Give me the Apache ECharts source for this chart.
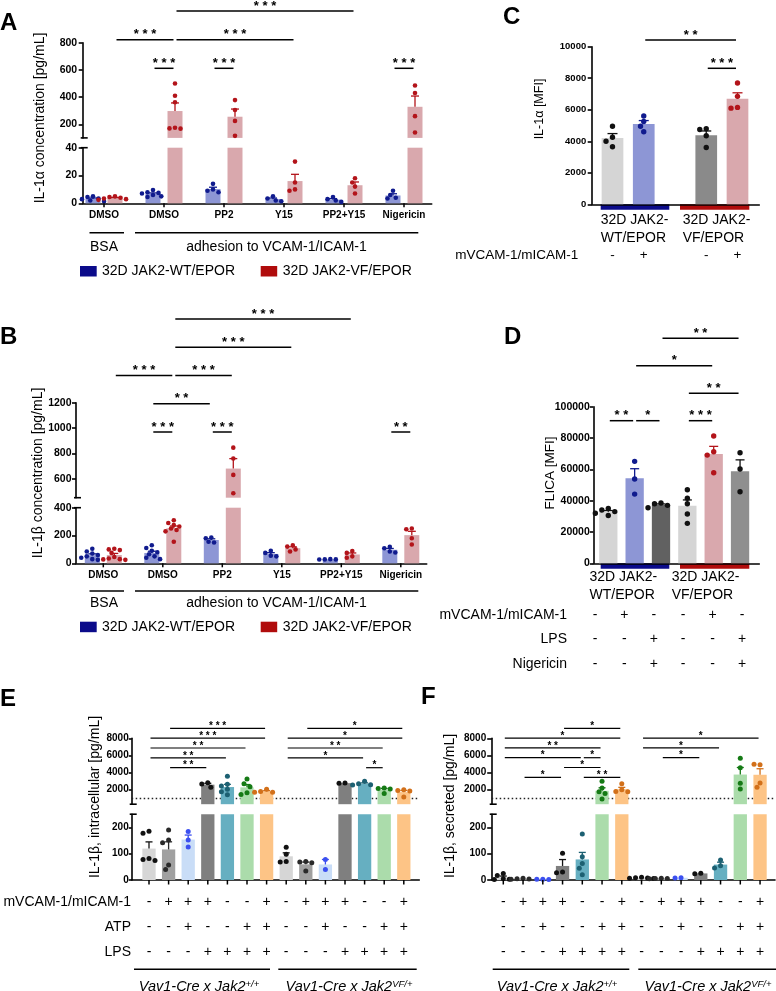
<!DOCTYPE html>
<html>
<head>
<meta charset="utf-8">
<script src="https://cdn.jsdelivr.net/npm/echarts@6/dist/echarts.min.js"></script>
<style>
  html, body { margin: 0; padding: 0; background: #fff; }
  #chart { width: 776px; height: 991px; }
</style>
</head>
<body>
<div id="chart"></div>
<script>
const FONT = "'Liberation Sans', Arial, Helvetica, sans-serif";

// ---------- data ----------
const abGroups = ['DMSO', 'DMSO', 'PP2', 'Y15', 'PP2+Y15', 'Nigericin'];

// A: IL-1a [pg/mL], one array of replicate dots per bar
const aWT = [
  [5, 4.5, 3.5, 3, 2, 1.5],
  [9.5, 8, 7.5, 7, 6, 5, 4.5],
  [14, 10, 9, 8],
  [5, 3.5, 2, 1.5],
  [4.5, 3, 2, 1],
  [9, 6, 4, 3.5]
];
const aVF = [
  [5, 4.5, 4, 3.5, 3, 2.5],
  [500, 410, 362, 175, 170, 168],
  [378, 305, 225, 115],
  [30, 15, 10, 9],
  [18, 15, 12, 7],
  [485, 430, 260, 140]
];

// B: IL-1b [pg/mL]
const bWT = [
  [105, 85, 70, 60, 50, 40, 30, 25],
  [130, 110, 90, 80, 65, 50, 40, 30],
  [185, 180, 155, 150],
  [90, 75, 55, 50],
  [30, 28, 28, 27],
  [118, 108, 85, 78]
];
const bVF = [
  [105, 100, 95, 75, 45, 35, 30, 28, 25],
  [310, 290, 275, 265, 250, 240, 230, 155],
  [845, 760, 630, 485],
  [130, 120, 100, 85],
  [88, 75, 50, 40],
  [250, 245, 180, 135]
];

// C: IL-1a [MFI]
const cDots = [
  [4950, 4250, 4000, 3650],
  [5600, 5250, 4950, 4600],
  [4800, 4750, 4350, 3600],
  [7700, 6850, 6150, 6100]
];

// D: FLICA [MFI]
const dDots = [
  [35000, 34000, 33000, 32000, 30500],
  [65100, 53800, 44200],
  [38500, 38000, 37000, 35500],
  [47000, 41500, 38000, 31500, 25500],
  [81300, 71200, 69100, 57800],
  [70600, 60200, 45700]
];

// E: IL-1b intracellular [pg/mL]
const eDots = [
  [185, 178, 82, 78, 74],
  [190, 152, 142, 57, 40],
  [184, 152, 125],
  [2780, 2620, 2240],
  [3550, 2600, 2400, 2000, 1700, 1350],
  [3200, 2650, 2300, 1600, 1400],
  [2000, 1750, 1650, 1650],
  [124, 98, 70, 68],
  [70, 68, 66, 34],
  [78, 40],
  [2750, 2700],
  [2950, 2650, 2550, 2500],
  [2150, 2100, 2050, 1500],
  [1950, 1850, 1800, 1100]
];

// F: IL-1b secreted [pg/mL]
const fDots = [
  [25, 17, 5, 3, 2],
  [7, 5, 4, 3],
  [3, 3, 2],
  [102, 30, 28],
  [175, 88, 63, 45, 20],
  [2950, 2150, 1700, 1500, 850],
  [2650, 1950, 1750, 1700],
  [10, 9, 8, 7, 6],
  [7, 6, 6, 5],
  [9, 8],
  [26, 24],
  [76, 54, 46],
  [5650, 4550, 2700, 2050],
  [4900, 4950, 2750, 2250]
];

const loqEF = 1000;

// tick labels
const aTopTicks = [200, 400, 600, 800];
const aBotTicks = [0, 20, 40];
const bTopTicks = [600, 800, 1000, 1200];
const bBotTicks = [0, 200, 400];
const cTicks = [0, 2000, 4000, 6000, 8000, 10000];
const dTicks = [0, 20000, 40000, 60000, 80000, 100000];
const efTopTicks = [2000, 4000, 6000, 8000];
const efBotTicks = [0, 100, 200];

// significance: [bar from, bar to, level, stars]
const sigA = [[2, 3, 0, '***'], [4, 5, 0, '***'], [10, 11, 0, '***'], [1, 3, 1, '***'], [3, 7, 1, '***'], [3, 9, 2, '***']];
const sigB = [[2, 3, 0, '***'], [4, 5, 0, '***'], [10, 11, 0, '**'], [2, 4, 1, '**'], [1, 3, 2, '***'], [3, 5, 2, '***'], [3, 7, 3, '***'], [3, 9, 4, '***']];
const sigC = [[2, 3, 0, '***'], [1, 3, 1, '**']];
const sigD = [[0, 1, 0, '**'], [1, 2, 0, '*'], [3, 4, 0, '***'], [3, 5, 1, '**'], [1, 4, 2, '*'], [2, 5, 3, '**']];
const sigE = [[1, 3, 0, '**'], [0, 4, 1, '**'], [0, 5, 2, '**'], [0, 6, 3, '***'], [1, 6, 4, '***'],
              [11, 12, 0, '*'], [7, 11, 1, '*'], [7, 12, 2, '**'], [7, 13, 3, '*'], [8, 13, 4, '*']];
const sigF = [[1, 3, 0, '*'], [4, 6, 0, '**'], [3, 5, 1, '*'], [0, 4, 2, '*'], [4, 5, 2, '*'], [0, 5, 3, '**'], [0, 6, 4, '*'], [3, 6, 5, '*'],
              [8, 10, 2, '*'], [7, 11, 3, '*'], [7, 13, 4, '*']];

// treatment tables
const cRows = ['mVCAM-1/mICAM-1'];
const cSigns = [['-', '+', '-', '+']];
const dRows = ['mVCAM-1/mICAM-1', 'LPS', 'Nigericin'];
const dSigns = [
  ['-', '+', '-', '-', '+', '-'],
  ['-', '-', '+', '-', '-', '+'],
  ['-', '-', '+', '-', '-', '+']
];
const efRows = ['mVCAM-1/mICAM-1', 'ATP', 'LPS'];
const efSigns = [
  ['-', '+', '+', '+', '-', '-', '+', '-', '+', '+', '+', '-', '-', '+'],
  ['-', '-', '+', '-', '-', '+', '+', '-', '-', '+', '-', '-', '+', '+'],
  ['-', '-', '-', '+', '+', '+', '+', '-', '-', '-', '+', '+', '+', '+']
];

// ---------- colours ----------
const WT_BAR = '#8d96d5', VF_BAR = '#d9a8ad', WT_DOT = '#101b8e', VF_DOT = '#b3141a';
const NAVY = '#0b0b8a', DARKRED = '#b00c0c';
const efFill = ['#d6d6d6', '#a0a0a0', '#c9ddf7', '#7f7f7f', '#66afc1', '#abdcab', '#fdc486'];
const efDot = ['#111', '#2a2a2a', '#3b4ff0', '#111', '#1c6072', '#157a15', '#d2701a'];

// ---------- helpers ----------
function stats(v) {
  const n = v.length;
  const m = v.reduce((a, b) => a + b, 0) / n;
  const sd = n > 1 ? Math.sqrt(v.reduce((a, b) => a + (b - m) * (b - m), 0) / (n - 1)) : 0;
  return { m, sem: sd / Math.sqrt(n) };
}

const grids = [], xAxes = [], yAxes = [], series = [], graphic = [];

function addGrid(P, top, bottom, xLine, yCfg) {
  const gi = grids.length;
  grids.push({ left: P.left, top: top, width: P.right - P.left, height: bottom - top });
  xAxes.push({
    type: 'value', gridIndex: gi, min: P.xmin, max: P.xmax, show: xLine,
    axisLine: { show: xLine, onZero: false, lineStyle: { color: '#000', width: 1.6 } },
    axisTick: { show: false }, axisLabel: { show: false }, splitLine: { show: false }
  });
  yAxes.push(Object.assign({ gridIndex: gi }, yCfg));
  return gi;
}

function marks(params, api, P, seg, isBottom) {
  const b = P.bars[params.dataIndex];
  const cs = params.coordSys;
  const top = cs.y, bot = cs.y + cs.height;
  const st = stats(b.vals);
  const kids = [];
  const ln = (x1, y1, x2, y2, c, w) =>
    kids.push({ type: 'line', shape: { x1, y1, x2, y2 }, style: { stroke: c, lineWidth: w || 1.3 } });
  const clampY = y => Math.min(Math.max(y, top), bot);

  // error bar (mean + SEM)
  const pm = api.coord([b.x, st.m]), pe = api.coord([b.x, st.m + st.sem]);
  const y0 = clampY(pm[1]), y1 = clampY(pe[1]);
  if (y0 - y1 > 0.3) {
    ln(pm[0], y0, pm[0], y1, b.dot);
    if (pe[1] >= top) ln(pm[0] - P.cap, y1, pm[0] + P.cap, y1, b.dot);
  }

  // replicate dots inside this axis segment, spread sideways when they overlap
  const placed = [];
  b.vals.filter(v => v >= seg.min && v <= seg.max)
    .map(v => api.coord([b.x, v]))
    .forEach(p => {
      let k = 0, dx = 0;
      while (k < 14 && placed.some(q => Math.hypot(q[0] - p[0] - dx, q[1] - p[1]) < P.r * 1.9)) {
        k++;
        dx = (k % 2 ? -1 : 1) * Math.ceil(k / 2) * P.r * 1.2;
      }
      placed.push([p[0] + dx, p[1]]);
    });
  placed.forEach(p => kids.push({ type: 'circle', shape: { cx: p[0], cy: p[1], r: P.r }, style: { fill: b.dot } }));

  // x ticks under the axis
  if (isBottom && b.tx != null) {
    const t = api.coord([b.tx, seg.min]);
    ln(t[0], bot, t[0], bot + P.xTick, '#000', 1.5);
  }
  // caps at the axis break
  if (params.dataIndex === 0 && seg.caps) {
    seg.caps.forEach(c => {
      const y = c === 'top' ? top : bot;
      ln(cs.x - 2, y, cs.x + 5, y, '#000', 1.6);
    });
  }
  return { type: 'group', children: kids };
}

function sigMark(params, api, P) {
  const s = P.sig[params.dataIndex];
  const a = api.coord([P.bars[s[0]].x, s[2]]);
  const b = api.coord([P.bars[s[1]].x, s[2]]);
  return {
    type: 'group', children: [
      { type: 'line', shape: { x1: a[0] + 1.5, y1: a[1], x2: b[0] - 1.5, y2: a[1] },
        style: { stroke: '#000', lineWidth: P.sigW } },
      { type: 'text', x: (a[0] + b[0]) / 2, y: a[1] - P.starDy,
        style: { text: s[3].split('').join(' '), fill: '#000', fontFamily: FONT, fontWeight: 'bold',
                 fontSize: P.starFs, align: 'center', verticalAlign: 'middle' } }
    ]
  };
}

function panel(P) {
  P.xmin = (P.left - P.c0) / P.step;
  P.xmax = (P.right - P.c0) / P.step;
  P.segs.forEach((seg, k) => {
    const isBottom = k === P.segs.length - 1;
    const gi = addGrid(P, seg.top, seg.bottom, isBottom, {
      type: 'value', min: seg.min, max: seg.max,
      axisLine: { show: true, onZero: false, lineStyle: { color: '#000', width: 1.6 } },
      axisTick: { show: true, length: P.tickLen, lineStyle: { color: '#000', width: 1.6 }, customValues: seg.labels },
      axisLabel: { customValues: seg.labels, formatter: v => String(v), color: '#000', fontFamily: FONT,
                   fontWeight: 'bold', fontSize: P.yfs, margin: P.ymargin },
      splitLine: { show: false }
    });
    const bar = {
      type: 'bar', xAxisIndex: gi, yAxisIndex: gi, barWidth: P.barW, clip: true, silent: true, z: 2,
      data: P.bars.map(b => ({ value: [b.x, stats(b.vals).m], itemStyle: { color: b.fill } }))
    };
    if (seg.loq) {
      bar.markLine = {
        silent: true, symbol: 'none', z: 1, label: { show: false },
        lineStyle: { color: '#222', width: 1.3, type: [1.5, 2.5] },
        data: [{ yAxis: seg.loq }]
      };
    }
    series.push(bar);
    series.push({
      type: 'custom', xAxisIndex: gi, yAxisIndex: gi, silent: true, z: 3,
      data: P.bars.map(b => [b.x, stats(b.vals).m]),
      renderItem: (params, api) => marks(params, api, P, seg, isBottom)
    });
  });
  const sg = addGrid(P, P.sigTop, P.sigBottom, false, { type: 'value', min: 0, max: P.sigN - 1, show: false });
  series.push({
    type: 'custom', xAxisIndex: sg, yAxisIndex: sg, silent: true, z: 4,
    data: P.sig.map(s => [P.bars[s[0]].x, P.bars[s[1]].x, s[2]]),
    encode: { x: [0, 1], y: 2 },
    renderItem: (params, api) => sigMark(params, api, P)
  });
}

function txt(x, y, text, o) {
  o = o || {};
  graphic.push({
    type: 'text', x: x, y: y, rotation: o.rot || 0, silent: true,
    style: {
      text: text, fill: o.color || '#000', fontFamily: FONT, fontSize: o.size || 14,
      fontWeight: o.weight || 'normal', fontStyle: o.italic ? 'italic' : 'normal',
      align: o.align || 'center', verticalAlign: 'middle'
    }
  });
}
function hline(x1, x2, y, w) {
  graphic.push({ type: 'line', silent: true, shape: { x1, y1: y, x2, y2: y }, style: { stroke: '#000', lineWidth: w || 1.5 } });
}
function box(x, y, w, h, c) {
  graphic.push({ type: 'rect', silent: true, shape: { x, y, width: w, height: h }, style: { fill: c } });
}
function geno(x, y, sup) {
  graphic.push({
    type: 'text', x: x, y: y, silent: true,
    style: {
      text: '{a|Vav1-Cre x Jak2}{s|' + sup + '}', align: 'center', verticalAlign: 'middle',
      rich: {
        a: { fontFamily: FONT, fontSize: 14.5, fontStyle: 'italic', fill: '#000' },
        s: { fontFamily: FONT, fontSize: 9.5, fontStyle: 'italic', fill: '#000', verticalAlign: 'top' }
      }
    }
  });
}

// ---------- panel A ----------
const barsA = [];
aWT.forEach((v, g) => {
  barsA.push({ x: g - 11 / 60, vals: v, fill: WT_BAR, dot: WT_DOT, tx: g });
  barsA.push({ x: g + 11 / 60, vals: aVF[g], fill: VF_BAR, dot: VF_DOT });
});
panel({
  left: 82.7, right: 431.7, c0: 104, step: 60, barW: 15, r: 2.3, cap: 4, tickLen: 4, yfs: 10.5, ymargin: 5.5, xTick: 4,
  bars: barsA,
  segs: [
    { top: 42.7, bottom: 137.9, min: 100, max: 800, labels: aTopTicks, caps: ['bottom'] },
    { top: 147.7, bottom: 203.3, min: 0, max: 40, labels: aBotTicks, caps: ['top'] }
  ],
  sig: sigA, sigTop: 11, sigBottom: 68.3, sigN: 3, sigW: 1.5, starFs: 13, starDy: 5
});

// ---------- panel B ----------
const barsB = [];
bWT.forEach((v, g) => {
  barsB.push({ x: g - 11 / 59.5, vals: v, fill: WT_BAR, dot: WT_DOT, tx: g });
  barsB.push({ x: g + 11 / 59.5, vals: bVF[g], fill: VF_BAR, dot: VF_DOT });
});
panel({
  left: 76, right: 426.7, c0: 103.3, step: 59.5, barW: 15, r: 2.3, cap: 4, tickLen: 4, yfs: 10.5, ymargin: 4.5, xTick: 4,
  bars: barsB,
  segs: [
    { top: 402.7, bottom: 497.7, min: 450, max: 1200, labels: bTopTicks, caps: ['bottom'] },
    { top: 507.7, bottom: 563.3, min: 0, max: 400, labels: bBotTicks, caps: ['top'] }
  ],
  sig: sigB, sigTop: 319, sigBottom: 432, sigN: 5, sigW: 1.5, starFs: 13, starDy: 5
});

// ---------- panel C ----------
const cFill = ['#d5d5d5', WT_BAR, '#8a8a8a', VF_BAR];
const cDot = ['#111', WT_DOT, '#111', VF_DOT];
const cPos = [0, 1, 3, 4];
const PC = {
  left: 591.7, right: 759.3, c0: 612.5, step: 31.25, barW: 21.7, r: 2.7, cap: 5, tickLen: 4, yfs: 9.5, ymargin: 5.5, xTick: 0,
  bars: cDots.map((v, i) => ({ x: cPos[i], vals: v, fill: cFill[i], dot: cDot[i] })),
  segs: [{ top: 46.7, bottom: 204.3, min: 0, max: 10000, labels: cTicks }],
  sig: sigC, sigTop: 40, sigBottom: 68.3, sigN: 2, sigW: 1.5, starFs: 13, starDy: 5
};
panel(PC);

// ---------- panel D ----------
const dFill = ['#d5d5d5', WT_BAR, '#616161', '#d5d5d5', VF_BAR, '#8f8f8f'];
const dDot = ['#111', WT_DOT, '#111', '#111', VF_DOT, '#111'];
panel({
  left: 593.3, right: 759.3, c0: 608.3, step: 26.35, barW: 18.3, r: 2.7, cap: 4.5, tickLen: 3.5, yfs: 10.5, ymargin: 3.5, xTick: 0,
  bars: dDots.map((v, i) => ({ x: i, vals: v, fill: dFill[i], dot: dDot[i] })),
  segs: [{ top: 406.7, bottom: 563.3, min: 0, max: 100000, labels: dTicks }],
  sig: sigD, sigTop: 338.3, sigBottom: 420.7, sigN: 4, sigW: 1.5, starFs: 13, starDy: 5
});

// ---------- panels E and F ----------
function efSegs() {
  return [
    { top: 738.3, bottom: 804.2, min: 250, max: 8000, labels: efTopTicks, caps: ['bottom'], loq: loqEF },
    { top: 814.2, bottom: 880, min: 0, max: 250, labels: efBotTicks, caps: ['top'] }
  ];
}
const PE = {
  left: 131.7, right: 419.3, c0: 149, step: 19.6, barW: 13.3, r: 2.5, cap: 3.5, tickLen: 3, yfs: 10, ymargin: 3, xTick: 4.5,
  bars: eDots.map((v, i) => ({ x: i, vals: v, fill: efFill[i % 7], dot: efDot[i % 7], tx: i })),
  segs: efSegs(),
  sig: sigE, sigTop: 728.3, sigBottom: 767.7, sigN: 5, sigW: 1.2, starFs: 10, starDy: 2
};
panel(PE);
const PF = {
  left: 491.7, right: 775, c0: 503.3, step: 19.75, barW: 13.3, r: 2.5, cap: 3.5, tickLen: 4.5, yfs: 10, ymargin: 5.5, xTick: 4.5,
  bars: fDots.map((v, i) => ({ x: i, vals: v, fill: efFill[i % 7], dot: efDot[i % 7], tx: i })),
  segs: efSegs(),
  sig: sigF, sigTop: 728.3, sigBottom: 777.3, sigN: 6, sigW: 1.2, starFs: 10, starDy: 2
};
panel(PF);

// ---------- texts and decorations ----------
// panel letters
txt(0, 23, 'A', { size: 24, weight: 'bold', align: 'left' });
txt(0, 337, 'B', { size: 24, weight: 'bold', align: 'left' });
txt(503, 17, 'C', { size: 24, weight: 'bold', align: 'left' });
txt(504, 337, 'D', { size: 24, weight: 'bold', align: 'left' });
txt(0, 699, 'E', { size: 24, weight: 'bold', align: 'left' });
txt(421, 697, 'F', { size: 24, weight: 'bold', align: 'left' });

// y titles
const R = Math.PI / 2;
txt(40, 118, 'IL-1α concentration [pg/mL]', { rot: R });
txt(38.5, 473, 'IL-1β concentration [pg/mL]', { rot: R });
txt(540, 109, 'IL-1α [MFI]', { rot: R, size: 12.5 });
txt(550, 473, 'FLICA [MFI]', { rot: R, size: 13.5 });
txt(95, 797, 'IL-1β, intracellular [pg/mL]', { rot: R });
txt(450, 806, 'IL-1β, secreted [pg/mL]', { rot: R });

// A / B category labels, treatment bars and legend
[[104, 60, 215, 232.7, 247, 271], [103.3, 59.5, 575, 591, 603.3, 626.7]].forEach(([c0, step, yl, yline, yt, yleg]) => {
  abGroups.forEach((g, i) => txt(c0 + i * step, yl, g, { size: 10, weight: 'bold' }));
  hline(89.5, 124, yline);
  hline(135, 418.3, yline);
  txt(104, yt, 'BSA');
  txt(276.5, yt, 'adhesion to VCAM-1/ICAM-1');
  box(80, yleg - 5, 16.7, 10.5, NAVY);
  txt(102, yleg, '32D JAK2-WT/EPOR', { align: 'left' });
  box(260.7, yleg - 5, 16.5, 10.5, DARKRED);
  txt(282.7, yleg, '32D JAK2-VF/EPOR', { align: 'left' });
});

// C / D genotype bars and labels
[[204.3, 220, 238.3, 600.7, 682.7], [563.3, 576.7, 595, 589.5, 671.7]].forEach(([yax, y1, y2, xl, xr]) => {
  box(600.7, yax, 68.6, 5.5, NAVY);
  box(680, yax, 69.3, 5.5, DARKRED);
  txt(xl, y1, '32D JAK2-', { align: 'left' });
  txt(xl, y2, 'WT/EPOR', { align: 'left' });
  txt(xr, y1, '32D JAK2-', { align: 'left' });
  txt(xr, y2, 'VF/EPOR', { align: 'left' });
});

// C table
cRows.forEach((r, k) => {
  txt(578.3, 255, r, { align: 'right', size: 13.5 });
  cSigns[k].forEach((s, i) => txt(PC.c0 + cPos[i] * PC.step, 255, s, { size: 13.5 }));
});
// D table
[615, 639.3, 664.5].forEach((y, k) => {
  txt(567, y, dRows[k], { align: 'right' });
  dSigns[k].forEach((s, i) => txt(595 + i * 29.4, y, s));
});
// E / F tables
[902.3, 926.7, 951.7].forEach((y, k) => {
  txt(131, y, efRows[k], { align: 'right' });
  efSigns[k].forEach((s, i) => {
    txt(PE.c0 + i * PE.step, y, s);
    txt(PF.c0 + i * PF.step, y, s);
  });
});
hline(134, 270, 969.3);
hline(278.3, 416.7, 969.3);
hline(492.7, 629.3, 969.3);
hline(638.3, 776, 969.3);
geno(199, 986.5, '+/+');
geno(349, 986.5, 'VF/+');
geno(557, 986.5, '+/+');
geno(708, 986.5, 'VF/+');

const chart = echarts.init(document.getElementById('chart'));
chart.setOption({
  animation: false,
  backgroundColor: '#fff',
  grid: grids,
  xAxis: xAxes,
  yAxis: yAxes,
  series: series,
  graphic: { elements: graphic }
});
</script>
</body>
</html>
